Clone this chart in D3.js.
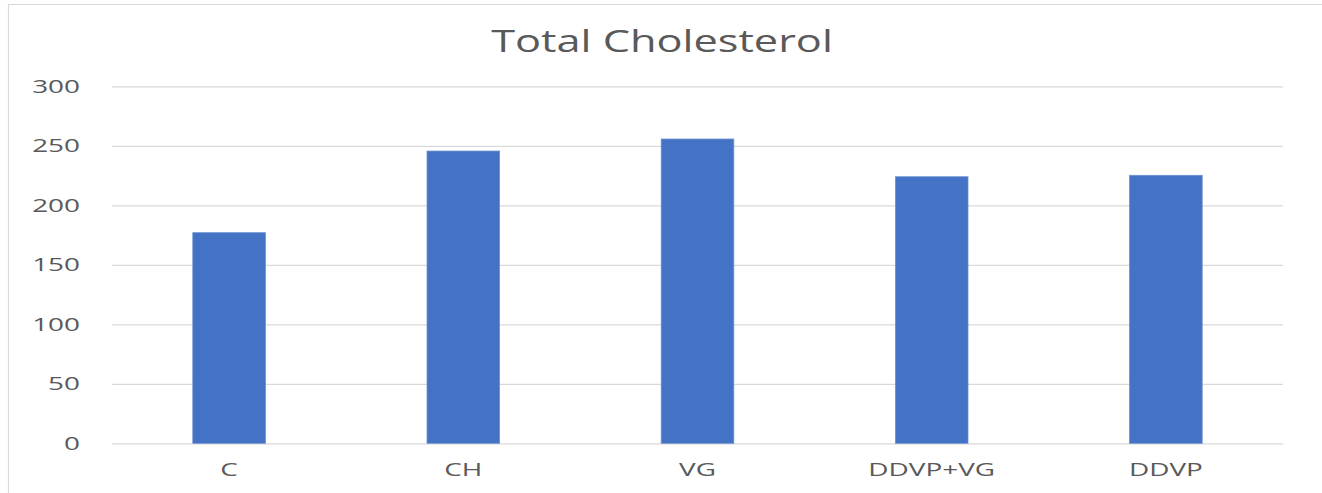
<!DOCTYPE html>
<html><head><meta charset="utf-8">
<script src="https://cdn.jsdelivr.net/npm/d3@7"></script>
<style>html,body{margin:0;padding:0;background:#fff;}svg{display:block;}</style>
</head><body>
<svg id="chart" width="1322" height="493"></svg>
<script>
const title = "Total Cholesterol";
const categories = ["C", "CH", "VG", "DDVP+VG", "DDVP"];
const values = [177, 245.6, 255.7, 224, 225.2];
const yTicks = [0, 50, 100, 150, 200, 250, 300];

const W = 1322, H = 493;
const svg = d3.select("#chart");
const font = "'Open Sans', 'Noto Sans', sans-serif";
const textColor = "#595959";

// outer border
svg.append("path").attr("d", `M8.5,${H} V4.5 H${W}`).attr("fill","none").attr("stroke","#d9d9d9").attr("stroke-width",1.2);

const x = d3.scaleBand().domain(categories).range([112, 1283]).paddingInner(0.69).paddingOuter(0.345);
const y = d3.scaleLinear().domain([0, 300]).range([443.3, 86.3]);

// gridlines
const yAxis = d3.axisLeft(y).tickValues(yTicks).tickSize(-(1283-112)).tickFormat("");
const ga = svg.append("g").attr("transform", "translate(112,0)").call(yAxis);
ga.select(".domain").remove();
ga.selectAll(".tick line").attr("stroke", "#d9d9d9").attr("stroke-width", 1.3);

// bars
svg.append("g").selectAll("rect").data(values).join("rect")
  .attr("x", (d,i) => x(categories[i]))
  .attr("width", x.bandwidth())
  .attr("y", d => y(d))
  .attr("height", d => y(0) - y(d))
  .attr("fill", "#4472c4")
  .attr("stroke", "#6d90d2").attr("stroke-width", 0.8);

// stretched text helper
function stext(g, tx, ty, s, size, sx, anchor) {
  return g.append("text")
    .attr("transform", `translate(${tx},${ty}) scale(${sx},1)`)
    .attr("text-anchor", anchor)
    .attr("font-family", font).attr("font-size", size)
    .attr("fill", textColor).text(s);
}

// y tick labels
const gl = svg.append("g");
yTicks.forEach(t => stext(gl, 80, y(t) + 6.4, String(t), 18, 1.55, "end"));

// x labels
const gx = svg.append("g");
categories.forEach(c => stext(gx, x(c) + x.bandwidth()/2, 475.5, c, 18, 1.55, "middle"));

// title
stext(svg, 662, 51.7, title, 30.5, 1.42, "middle");
</script>
</body></html>
